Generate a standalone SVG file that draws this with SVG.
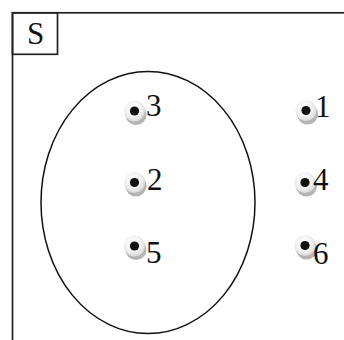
<svg xmlns="http://www.w3.org/2000/svg" width="344" height="340" viewBox="0 0 344 340">
  <defs>
    <radialGradient id="halo" cx="0.45" cy="0.4" r="0.6">
      <stop offset="0" stop-color="#ffffff"/>
      <stop offset="0.55" stop-color="#f6f6f6"/>
      <stop offset="1" stop-color="#d8d8d8"/>
    </radialGradient>
    <g id="pt">
      <circle cx="1.5" cy="3.5" r="10.5" fill="#b4b4b4"/>
      <circle cx="0" cy="0" r="10.5" fill="url(#halo)"/>
      <circle cx="0" cy="0" r="4.6" fill="#111"/>
    </g>
  </defs>
  <style>
    .frame { fill: none; stroke: #222; stroke-width: 1.7; }
    .set { fill: none; stroke: #111; stroke-width: 1.5; }
    .lbl { font-family: "Liberation Serif", "Times New Roman", "DejaVu Serif", serif; font-size: 31px; fill: #111; }
    .title { font-family: "Liberation Serif", "Times New Roman", "DejaVu Serif", serif; font-size: 31px; fill: #111; text-anchor: middle; }
  </style>
  <rect width="344" height="340" fill="#ffffff"/>
  <g id="universe">
    <rect class="frame" x="12.5" y="12.8" width="360" height="360"/>
    <rect class="frame" x="12.5" y="12.8" width="45" height="41.5"/>
    <text class="title" x="35.5" y="43.5">S</text>
  </g>
  <g id="setA">
    <ellipse class="set" cx="148" cy="202.5" rx="107" ry="131"/>
  </g>
  <g id="p3"><use href="#pt" x="134.5" y="111"/><text class="lbl" x="146" y="116">3</text></g>
  <g id="p2"><use href="#pt" x="134.5" y="182.5"/><text class="lbl" x="147" y="190">2</text></g>
  <g id="p5"><use href="#pt" x="134.5" y="246"/><text class="lbl" x="146" y="263">5</text></g>
  <g id="p1"><use href="#pt" x="306" y="110.5"/><text class="lbl" x="315" y="117">1</text></g>
  <g id="p4"><use href="#pt" x="305" y="182.5"/><text class="lbl" x="313" y="190">4</text></g>
  <g id="p6"><use href="#pt" x="305" y="245.5"/><text class="lbl" x="313" y="264">6</text></g>
  <g id="connectors"></g>
</svg>
